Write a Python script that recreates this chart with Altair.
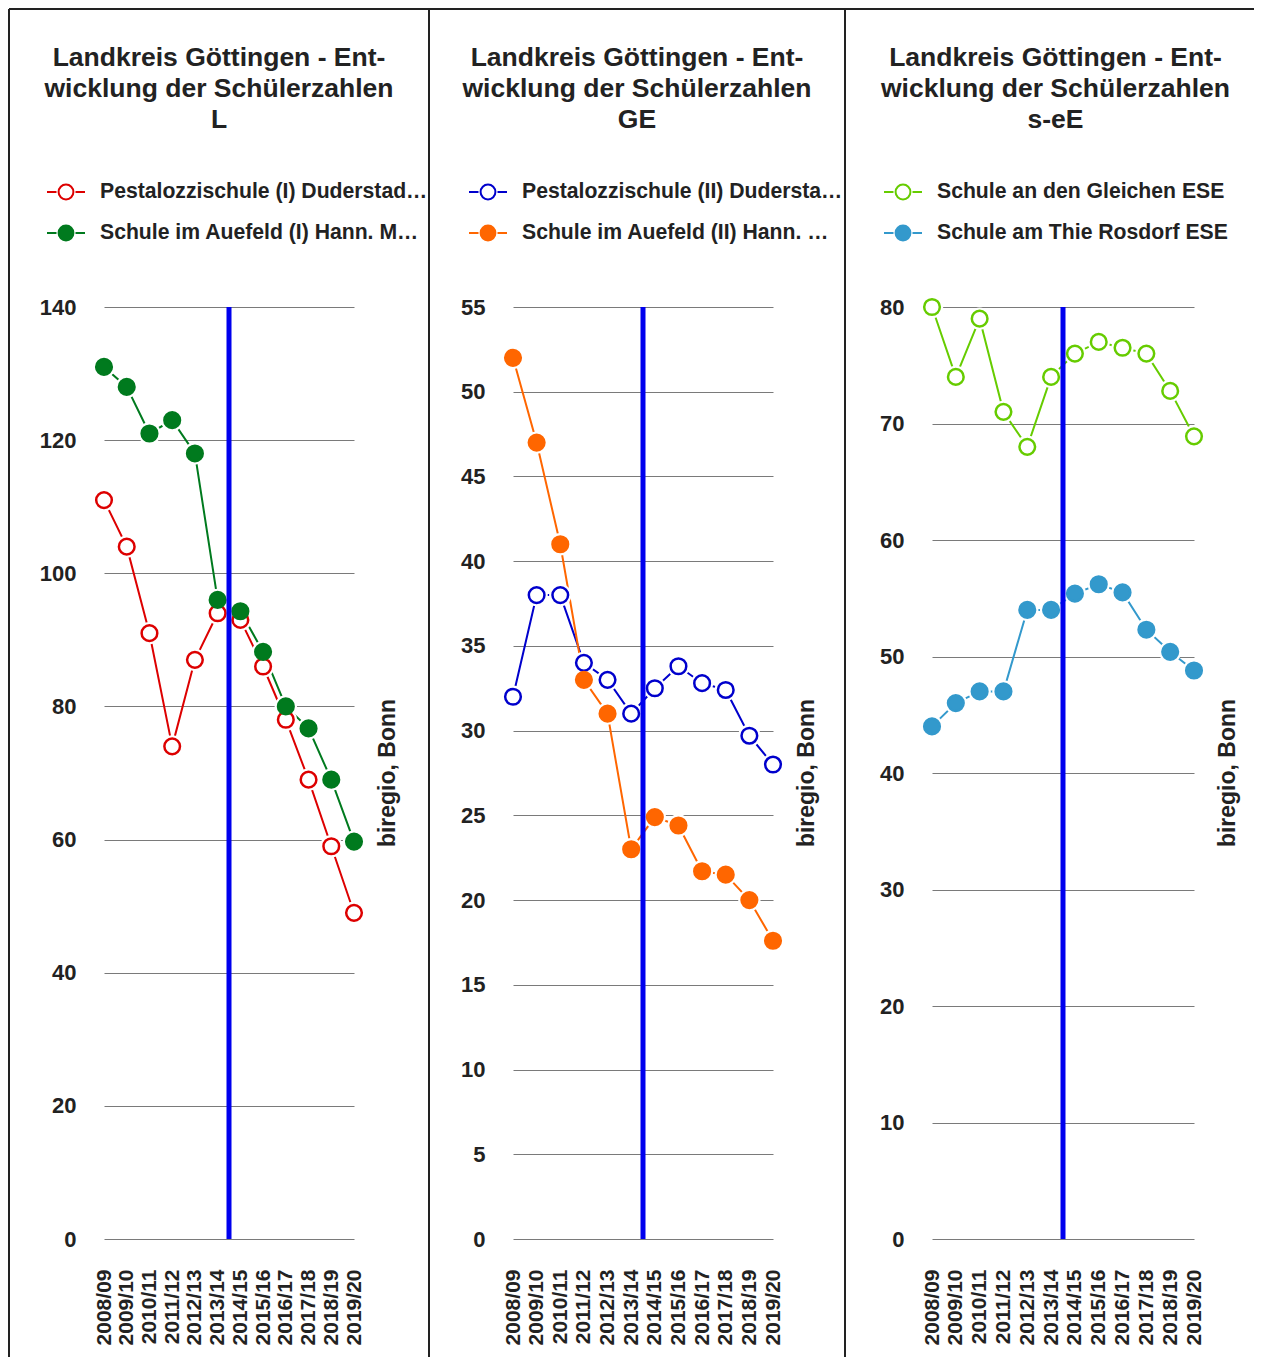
import altair as alt
import pandas as pd

# ---------------- data ----------------
years = ["2008/09", "2009/10", "2010/11", "2011/12", "2012/13", "2013/14",
         "2014/15", "2015/16", "2016/17", "2017/18", "2018/19", "2019/20"]

title_lines = ["Landkreis Göttingen - Ent-", "wicklung der Schülerzahlen"]
panel_codes = ["L", "GE", "s-eE"]

names_L = ["Pestalozzischule (I) Duderstadt L", "Schule im Auefeld (I) Hann. Münden L"]
pestalozzi_L = [111, 104, 91, 74, 87, 94, 93, 86, 78, 69, 59, 49]
auefeld_L = [131, 128, 121, 123, 118, 96, 94.3, 88.2, 80, 76.7, 69, 59.7]

names_GE = ["Pestalozzischule (II) Duderstadt GE", "Schule im Auefeld (II) Hann. Münden GE"]
pestalozzi_GE = [32, 38, 38, 34, 33, 31, 32.5, 33.8, 32.8, 32.4, 29.7, 28]
auefeld_GE = [52, 47, 41, 33, 31, 23, 24.9, 24.4, 21.7, 21.5, 20, 17.6]

names_ESE = ["Schule an den Gleichen ESE", "Schule am Thie Rosdorf ESE"]
gleichen_ESE = [80, 74, 79, 71, 68, 74, 76, 77, 76.5, 76, 72.8, 68.9]
thie_ESE = [44, 46, 47, 47, 54, 54, 55.4, 56.2, 55.5, 52.3, 50.4, 48.8]

colors_L = ["#dd0000", "#007a1e"]
colors_GE = ["#0000cc", "#ff6600"]
colors_ESE = ["#66cc00", "#3399cc"]

y_max = [140, 55, 80]
y_step = [20, 5, 10]
marker_after = "2013/14"
source_note = "biregio, Bonn"

# ---------------- styling ----------------
FONT = "Liberation Sans"
TXT = "#222222"
PLOT_H = 932
SPACING = 159
TOP_Y = -298
BOTTOM_Y = 1050
LEGEND_PATH = ("M-1,0L-0.5,0M0.5,0L1,0"
               "M-0.39,0A0.39,0.39,0,1,1,0.39,0A0.39,0.39,0,1,1,-0.39,0Z")

label_expr = "[" + ",".join("'%s'" % y for y in years) + "][datum.value]"


def make_panel(k, names, series_a, series_b, colors, width,
               left_edge, right_edge, legend_x, label_limit, title_dx,
               draw_left, draw_right):
    n = len(years)
    df = pd.DataFrame({
        "idx": list(range(n)) * 2,
        "year": years * 2,
        "value": list(series_a) + list(series_b),
        "series": [names[0]] * n + [names[1]] * n,
    })
    ymax = y_max[k]
    step = y_step[k]

    x_enc = alt.X(
        "idx:Q",
        scale=alt.Scale(domain=[0, n - 1], nice=False, zero=False),
        axis=alt.Axis(values=list(range(n)), labelExpr=label_expr, labelAngle=270,
                      labelFontSize=21, labelFontWeight="bold", labelColor=TXT,
                      labelPadding=30, ticks=False, tickSize=0, domain=False,
                      grid=False, title=None, labelOverlap=False, labelFlush=False,
                      labelSeparation=0),
    )
    y_enc = alt.Y(
        "value:Q",
        scale=alt.Scale(domain=[0, ymax], nice=False, zero=True),
        axis=alt.Axis(values=list(range(0, ymax + 1, step)), grid=True,
                      gridColor="#7a7a7a", gridWidth=1, domain=False, ticks=False,
                      tickSize=0, labelPadding=28, labelFontSize=22,
                      labelFontWeight="bold", labelColor=TXT, title=None),
    )
    legend = alt.Legend(orient="none", legendX=legend_x, legendY=-135,
                        direction="vertical", title=None, symbolType=LEGEND_PATH,
                        symbolSize=1444, symbolStrokeWidth=2, symbolFillColor="white",
                        labelFontSize=21.2, labelFontWeight="bold", labelColor=TXT,
                        labelLimit=label_limit, labelOffset=14, rowPadding=9,
                        padding=0, symbolOpacity=1)
    stroke_scale = alt.Scale(domain=names, range=colors)
    fill_scale = alt.Scale(domain=names, range=["white", colors[1]])

    base = alt.Chart(df)
    layers = []
    for name, col in zip(names, colors):
        layers.append(
            base.transform_filter(alt.datum.series == name)
            .mark_line(strokeWidth=2, color=col)
            .encode(x=x_enc, y=y_enc)
        )
    halo = base.mark_circle(size=500, color="white", opacity=1).encode(x=x_enc, y=y_enc)
    points = base.mark_point(filled=True, size=245, strokeWidth=2.5, opacity=1).encode(
        x=x_enc, y=y_enc,
        stroke=alt.Stroke("series:N", scale=stroke_scale, legend=legend),
        fill=alt.Fill("series:N", scale=fill_scale, legend=legend),
    )
    layers += [halo, points]

    mk = pd.DataFrame({"idx": [years.index(marker_after) + 0.5],
                       "value": [ymax], "value2": [0]})
    vline = alt.Chart(mk).mark_rule(color="#0000ee", strokeWidth=5).encode(
        x=x_enc, y=y_enc, y2="value2:Q")
    layers.append(vline)

    one = pd.DataFrame({"b": [0]})
    layers.append(alt.Chart(one).mark_rule(color=TXT, strokeWidth=2).encode(
        x=alt.value(left_edge), x2=alt.value(right_edge), y=alt.value(TOP_Y)))
    if draw_right:
        layers.append(alt.Chart(one).mark_rule(color=TXT, strokeWidth=2).encode(
            x=alt.value(right_edge), y=alt.value(TOP_Y), y2=alt.value(BOTTOM_Y)))
    if draw_left:
        layers.append(alt.Chart(one).mark_rule(color=TXT, strokeWidth=2).encode(
            x=alt.value(left_edge), y=alt.value(TOP_Y), y2=alt.value(BOTTOM_Y)))

    note = alt.Chart(pd.DataFrame({"t": [source_note]})).mark_text(
        angle=270, fontSize=23, fontWeight="bold", color=TXT,
        align="center", baseline="middle").encode(
        x=alt.value(width + 34), y=alt.value(PLOT_H / 2), text="t:N")
    layers.append(note)

    title = alt.TitleParams(text=title_lines + [panel_codes[k]], fontSize=26.5,
                            fontWeight="bold", color=TXT, lineHeight=31,
                            anchor="middle", frame="bounds", baseline="bottom",
                            offset=-152, dx=title_dx, font=FONT)
    return alt.layer(*layers).properties(width=width, height=PLOT_H, title=title)


w1, w2, w3 = 250, 260, 262
p1_left = 104
p2_left = p1_left + w1 + SPACING
p3_left = p2_left + w2 + SPACING

panel1 = make_panel(0, names_L, pestalozzi_L, auefeld_L, colors_L, w1,
                    left_edge=8 - p1_left + 1, right_edge=429 - p1_left,
                    legend_x=46 - p1_left, label_limit=328, title_dx=0,
                    draw_left=True, draw_right=True)
panel2 = make_panel(1, names_GE, pestalozzi_GE, auefeld_GE, colors_GE, w2,
                    left_edge=429 - p2_left, right_edge=845 - p2_left,
                    legend_x=468 - p2_left, label_limit=322, title_dx=0,
                    draw_left=False, draw_right=True)
panel3 = make_panel(2, names_ESE, gleichen_ESE, thie_ESE, colors_ESE, w3,
                    left_edge=845 - p3_left, right_edge=1254 - p3_left,
                    legend_x=883 - p3_left, label_limit=400, title_dx=6,
                    draw_left=False, draw_right=False)

chart = (
    alt.hconcat(panel1, panel2, panel3, spacing=SPACING, bounds="flush")
    .resolve_scale(x="independent", y="independent",
                   stroke="independent", fill="independent")
    .resolve_legend(stroke="independent", fill="independent")
    .properties(padding=0)
    .configure(font=FONT)
    .configure_view(stroke=None)
)

chart.save("out.html", embed_options={"renderer": "svg", "actions": False})
